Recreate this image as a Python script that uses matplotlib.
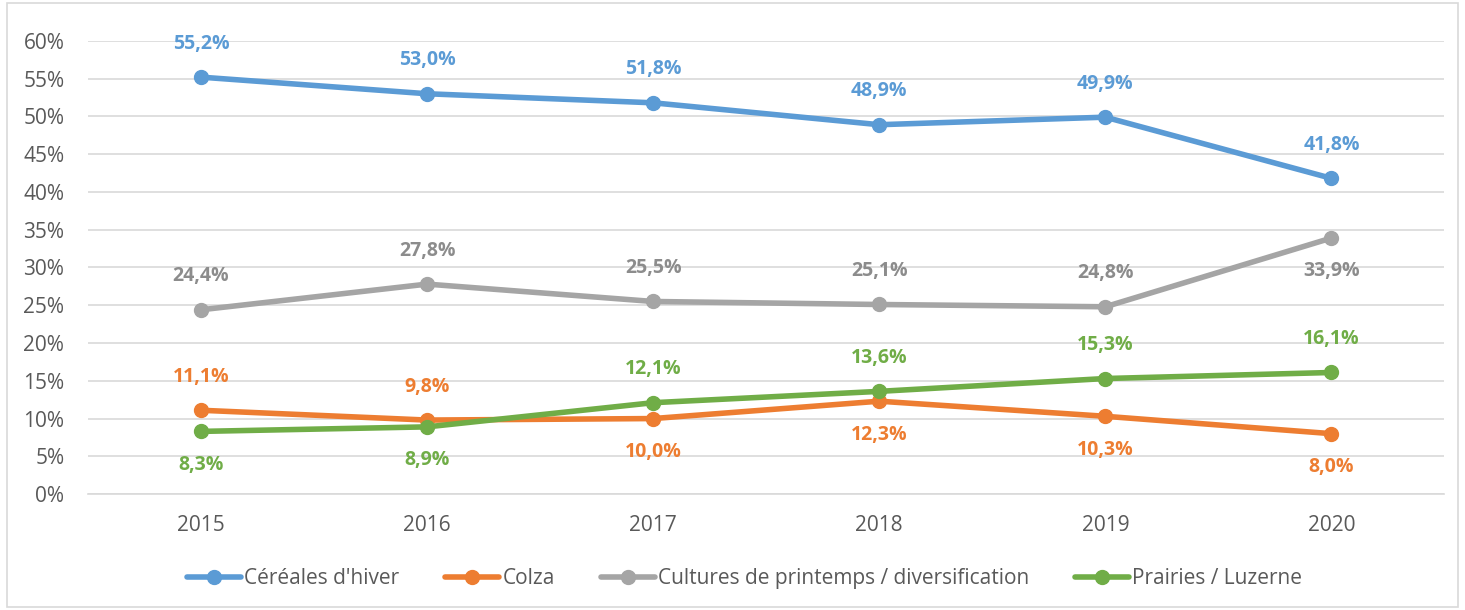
import numpy as np
import matplotlib
matplotlib.use("Agg")
import matplotlib.pyplot as plt
from matplotlib.patches import Rectangle

years = ["2015", "2016", "2017", "2018", "2019", "2020"]
cereales = [55.2, 53.0, 51.8, 48.9, 49.9, 41.8]
colza = [11.1, 9.8, 10.0, 12.3, 10.3, 8.0]
cultures = [24.4, 27.8, 25.5, 25.1, 24.8, 33.9]
prairies = [8.3, 8.9, 12.1, 13.6, 15.3, 16.1]

# label position for each point: +1 above, -1 below
pos_cereales = [1, 1, 1, 1, 1, 1]
pos_colza = [1, 1, -1, -1, -1, -1]
pos_cultures = [1, 1, 1, 1, 1, -1]
pos_prairies = [-1, -1, 1, 1, 1, 1]

series = [
    ("Céréales d'hiver", cereales, "#5B9BD5", "#5B9BD5", pos_cereales),
    ("Colza", colza, "#ED7D31", "#ED7D31", pos_colza),
    ("Cultures de printemps / diversification", cultures, "#A5A5A5", "#8C8C8C", pos_cultures),
    ("Prairies / Luzerne", prairies, "#70AD47", "#70AD47", pos_prairies),
]

plt.rcParams['font.family'] = ['Open Sans', 'DejaVu Sans']

fig = plt.figure(figsize=(14.65, 6.10), dpi=100)
ax = fig.add_axes([0.060, 0.190, 0.926, 0.743])

x = np.arange(len(years))
for name, vals, col, tcol, pos in series:
    ax.plot(x, vals, color=col, lw=4, marker="o", ms=10, label=name,
            solid_capstyle="round", zorder=3)
    for xi, v, p in zip(x, vals, pos):
        ax.annotate(f"{v:.1f}%".replace(".", ","), (xi, v),
                    xytext=(0, 24 * p), textcoords="offset points",
                    ha="center", va="center", fontsize=14,
                    fontweight="bold", color=tcol)

ax.set_xlim(-0.5, 5.5)
ax.set_ylim(0, 60)
ax.set_yticks(np.arange(0, 61, 5))
ax.set_yticklabels([f"{v}%" for v in range(0, 61, 5)])
ax.set_xticks(x)
ax.set_xticklabels(years)
ax.tick_params(axis="y", colors="#595959", labelsize=15, length=0, pad=17)
ax.tick_params(axis="x", colors="#595959", labelsize=15, length=0, pad=15)
ax.grid(axis="y", color="#D9D9D9", lw=1.2)
ax.set_axisbelow(True)
for s in ["top", "right", "left"]:
    ax.spines[s].set_visible(False)
ax.spines["bottom"].set_color("#D9D9D9")
ax.spines["bottom"].set_linewidth(1.2)

ax.legend(loc="center", bbox_to_anchor=(0.484, -0.187), ncol=4, frameon=False,
          fontsize=15, labelcolor="#595959", handlelength=2.6,
          handletextpad=0.15, columnspacing=2.2)

fig.patches.append(Rectangle((0.005, 0.005), 0.99, 0.99, transform=fig.transFigure,
                             fill=False, edgecolor="#D9D9D9", lw=1.2))

fig.savefig("out.png", dpi=100)
